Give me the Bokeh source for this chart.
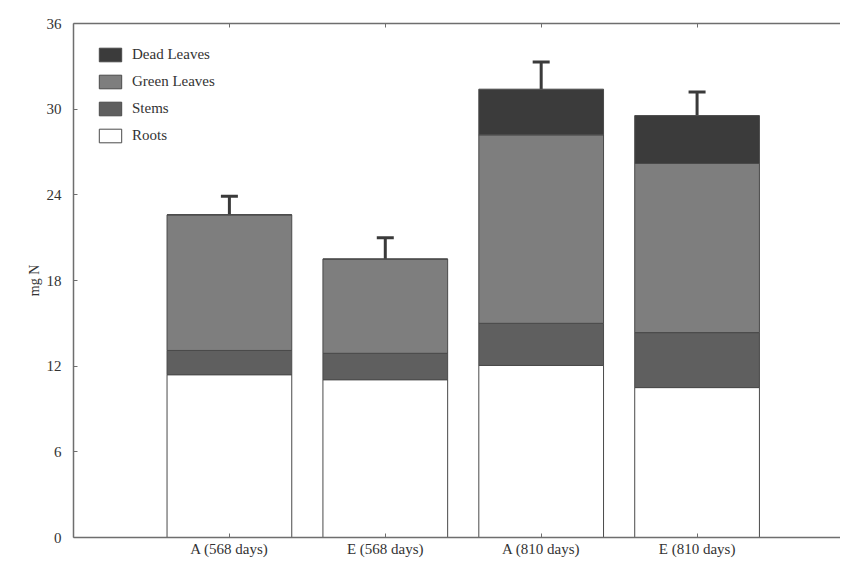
from bokeh.plotting import figure
from bokeh.models import (ColumnDataSource, Range1d, FixedTicker, LinearAxis,
                          Legend, LegendItem, Whisker, TeeHead)
from bokeh.embed import file_html
from bokeh.resources import INLINE

# ---- data (mg N) ----
categories = ["A (568 days)", "E (568 days)", "A (810 days)", "E (810 days)"]
roots = [11.4, 11.05, 12.05, 10.5]
stems = [1.7, 1.85, 2.95, 3.85]
green_leaves = [9.5, 6.6, 13.2, 11.85]
dead_leaves = [0.0, 0.0, 3.2, 3.35]
errors = [1.3, 1.5, 1.9, 1.65]
y_ticks = [0, 6, 12, 18, 24, 30, 36]

xs = list(range(1, len(categories) + 1))
totals = [r + s + g + d for r, s, g, d in zip(roots, stems, green_leaves, dead_leaves)]
upper = [t + e for t, e in zip(totals, errors)]

src = ColumnDataSource(dict(x=xs, roots=roots, stems=stems, green=green_leaves,
                            dead=dead_leaves, total=totals, upper=upper))

SERIF = "Liberation Serif"
AX = "#6e6e6e"
TXT = "#333333"
FS = "15px"

p = figure(width=840, height=560, output_backend="svg", toolbar_location=None,
           x_range=Range1d(0, 4.92), y_range=Range1d(0, 36),
           min_border_left=73, min_border_top=23, min_border_bottom=23,
           min_border_right=0)
p.outline_line_color = None
p.xgrid.visible = False
p.ygrid.visible = False
p.background_fill_color = "white"

colors = ["#ffffff", "#5f5f5f", "#7e7e7e", "#3b3b3b"]
stack_names = ["roots", "stems", "green", "dead"]
renderers = p.vbar_stack(stack_names, x="x", width=0.8, source=src,
                         fill_color=colors, line_color="#4a4a4a", line_width=1)

# error bars (upper only)
whisk = Whisker(base="x", lower="total", upper="upper", source=src,
                line_color="#3a3a3a", line_width=3,
                upper_head=TeeHead(size=17, line_width=3, line_color="#3a3a3a"),
                lower_head=None)
p.add_layout(whisk)

# axes
for ax in (p.xaxis[0], p.yaxis[0]):
    ax.axis_line_color = AX
    ax.axis_line_width = 1.5
    ax.major_tick_in = 4
    ax.major_tick_out = 0
    ax.minor_tick_line_color = None
    ax.major_tick_line_color = AX
    ax.major_label_text_font = SERIF
    ax.major_label_text_font_size = FS
    ax.major_label_text_color = TXT

p.xaxis.ticker = FixedTicker(ticks=xs)
p.xaxis.major_label_overrides = {x: c for x, c in zip(xs, categories)}
p.xaxis.major_label_standoff = 3

p.yaxis.ticker = FixedTicker(ticks=y_ticks)
p.yaxis.major_label_standoff = 12
p.yaxis.axis_label = "mg N"
p.yaxis.axis_label_text_font = SERIF
p.yaxis.axis_label_text_font_style = "normal"
p.yaxis.axis_label_text_font_size = "14px"
p.yaxis.axis_label_text_color = TXT
p.yaxis.axis_label_standoff = 2

top_ax = LinearAxis(ticker=FixedTicker(ticks=xs), axis_line_color=AX,
                    axis_line_width=1.5, major_tick_in=4, major_tick_out=0,
                    major_tick_line_color=AX, minor_tick_line_color=None,
                    major_label_overrides={x: "" for x in xs})
p.add_layout(top_ax, "above")

legend = Legend(items=[
    LegendItem(label="Dead Leaves", renderers=[renderers[3]]),
    LegendItem(label="Green Leaves", renderers=[renderers[2]]),
    LegendItem(label="Stems", renderers=[renderers[1]]),
    LegendItem(label="Roots", renderers=[renderers[0]]),
], location="top_left")
legend.border_line_color = None
legend.background_fill_alpha = 0
legend.label_text_font = SERIF
legend.label_text_font_size = FS
legend.label_text_color = TXT
legend.glyph_width = 28
legend.glyph_height = 17
legend.spacing = 10
legend.label_standoff = 8
legend.padding = 8
legend.margin = 23
p.add_layout(legend, "center")

open("out.html", "w").write(file_html(p, INLINE))
